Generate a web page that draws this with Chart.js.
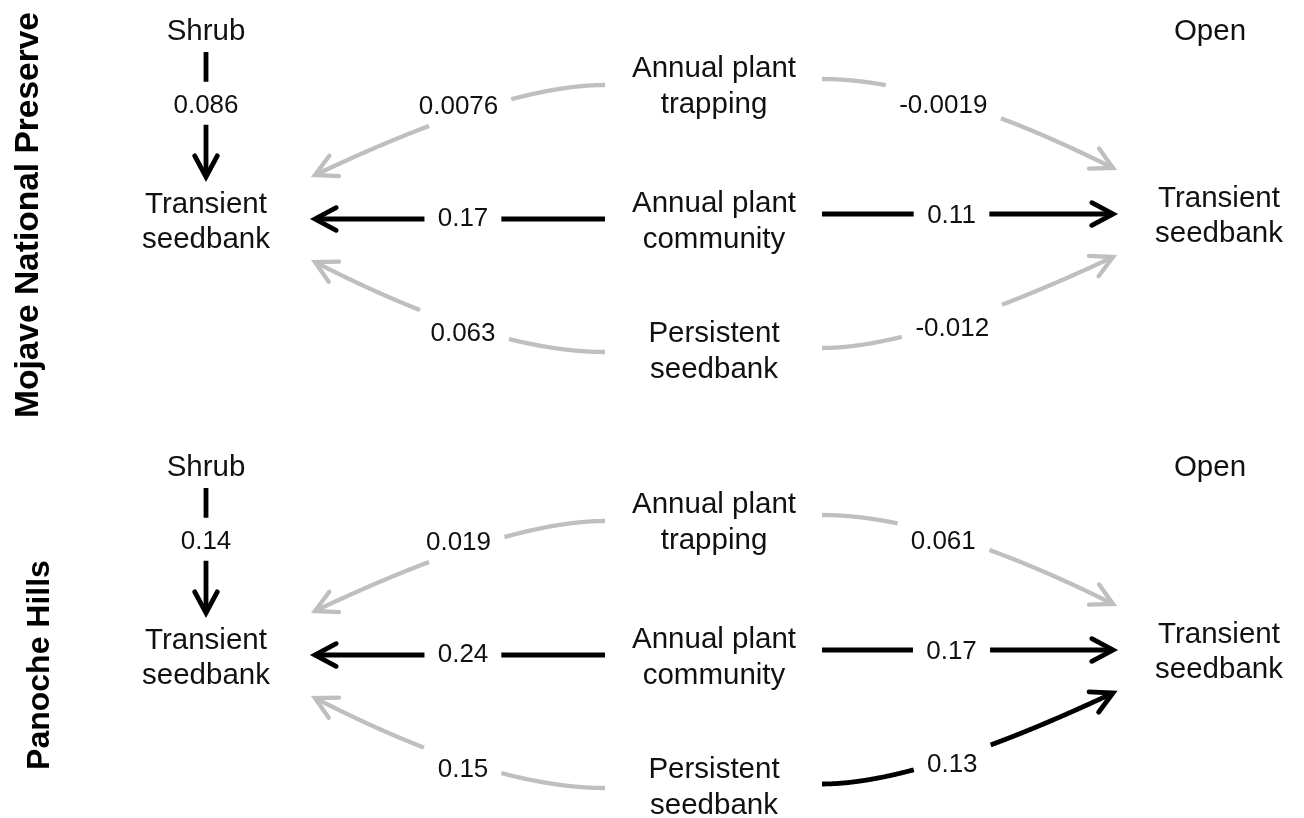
<!DOCTYPE html>
<html>
<head>
<meta charset="utf-8">
<script src="https://cdn.jsdelivr.net/npm/chart.js@4.4.1/dist/chart.umd.min.js"></script>
<style>
html,body{margin:0;padding:0;background:#fff;}
#wrap{width:1304px;height:818px;position:relative;}
</style>
</head>
<body>
<div id="wrap"><canvas id="c" width="1304" height="818"></canvas></div>
<script>
// ---------------- DATA ----------------
const panelTitles = ['Mojave National Preserve', 'Panoche Hills'];
const columnHeads = ['Shrub', 'Open'];
const responseLabel = ['Transient', 'seedbank'];
const predictorLabels = [['Annual plant', 'trapping'], ['Annual plant', 'community'], ['Persistent', 'seedbank']];
const pathNames = [
  'Shrub -> Transient seedbank (shrub)',
  'Annual plant trapping -> Transient seedbank (shrub)',
  'Annual plant community -> Transient seedbank (shrub)',
  'Persistent seedbank -> Transient seedbank (shrub)',
  'Annual plant trapping -> Transient seedbank (open)',
  'Annual plant community -> Transient seedbank (open)',
  'Persistent seedbank -> Transient seedbank (open)'
];
const mojaveCoef  = [0.086, 0.0076, 0.17, 0.063, -0.0019, 0.11, -0.012];
const panocheCoef = [0.14, 0.019, 0.24, 0.15, 0.061, 0.17, 0.13];
const mojaveSig   = [true, false, true, false, false, true, false];
const panocheSig  = [true, false, true, false, false, true, true];

// ---------------- LAYOUT (diagram units) ----------------
const FRAME = {w: 1304, h: 818};
const PANEL_DY = [0, 436];
const TITLE_POS = [{x: 38, y: 215}, {x: 49, y: 665}];
const TITLE_SIZE = [33.5, 32];
const NODE_POS = {
  shrub:  {x: 206,  base: [40]},
  transL: {x: 206,  base: [213, 248]},
  pred0:  {x: 714,  base: [77, 113]},
  pred1:  {x: 714,  base: [212, 248]},
  pred2:  {x: 714,  base: [342, 378]},
  open:   {x: 1210, base: [40]},
  transR: {x: 1219, base: [207, 242]}
};
const EDGE_GEOM = [
  {s: [206, 52],  t: [206, 177], lt: 0.41, off: [0, 0]},
  {s: [605, 85],  c: [505, 85],  t: [315, 175], lt: 0.5, off: [-24, -3]},
  {s: [605, 219], t: [315, 219], lt: 0.5, off: [3, -2]},
  {s: [605, 352], c: [490, 352], t: [315, 262], lt: 0.5, off: [-12, 2]},
  {s: [822, 79],  c: [935, 79],  t: [1113, 168], lt: 0.5, off: [-8, 2]},
  {s: [822, 214], t: [1113, 214], lt: 0.5, off: [-16, 0]},
  {s: [822, 348], c: [919, 348], t: [1113, 257], lt: 0.5, off: [9, 1]}
];
const STYLE = {
  sigColor: '#000000', nsColor: '#bfbfbf', sigWidth: 4.8, nsWidth: 4.3,
  nodeFont: '29.5px "Liberation Sans", Arial, sans-serif',
  coefFont: '26px "Liberation Sans", Arial, sans-serif',
  titleFamily: '"Liberation Sans", Arial, sans-serif',
  headLen: 24, headAngle: 28 * Math.PI / 180, padX: 13, padY: 12
};

const panelCoefs = [mojaveCoef, panocheCoef];
const panelSigs = [mojaveSig, panocheSig];

// node anchor points as a (hidden) scatter dataset
const anchorPoints = [];
PANEL_DY.forEach(dy => Object.values(NODE_POS).forEach(n => anchorPoints.push({x: n.x, y: n.base[0] + dy})));

const diagramPlugin = {
  id: 'diagram',
  afterDatasetsDraw(chart) {
    const ctx = chart.ctx;
    const X = v => chart.scales.x.getPixelForValue(v);
    const Y = v => chart.scales.y.getPixelForValue(v);
    ctx.save();

    // panel titles
    panelTitles.forEach((title, i) => {
      ctx.save();
      ctx.translate(X(TITLE_POS[i].x), Y(TITLE_POS[i].y));
      ctx.rotate(-Math.PI / 2);
      ctx.font = 'bold ' + TITLE_SIZE[i] + 'px ' + STYLE.titleFamily;
      ctx.fillStyle = '#000';
      ctx.textAlign = 'center';
      ctx.textBaseline = 'alphabetic';
      ctx.fillText(title, 0, 0);
      ctx.restore();
    });

    const nodeText = {
      shrub: [columnHeads[0]], open: [columnHeads[1]],
      transL: responseLabel, transR: responseLabel,
      pred0: predictorLabels[0], pred1: predictorLabels[1], pred2: predictorLabels[2]
    };

    PANEL_DY.forEach((dy, p) => {
      // nodes
      ctx.font = STYLE.nodeFont;
      ctx.fillStyle = '#111';
      ctx.textAlign = 'center';
      ctx.textBaseline = 'alphabetic';
      Object.keys(NODE_POS).forEach(k => {
        const n = NODE_POS[k];
        nodeText[k].forEach((line, j) => ctx.fillText(line, X(n.x), Y(n.base[j] + dy)));
      });

      // edges
      EDGE_GEOM.forEach((g, e) => {
        const value = panelCoefs[p][e];
        const sig = panelSigs[p][e];
        const color = sig ? STYLE.sigColor : STYLE.nsColor;
        const lw = sig ? STYLE.sigWidth : STYLE.nsWidth;
        const S = {x: X(g.s[0]), y: Y(g.s[1] + dy)};
        const T = {x: X(g.t[0]), y: Y(g.t[1] + dy)};
        const C = g.c ? {x: X(g.c[0]), y: Y(g.c[1] + dy)} : null;
        const P = t => C ? {
          x: (1 - t) * (1 - t) * S.x + 2 * (1 - t) * t * C.x + t * t * T.x,
          y: (1 - t) * (1 - t) * S.y + 2 * (1 - t) * t * C.y + t * t * T.y
        } : {x: S.x + (T.x - S.x) * t, y: S.y + (T.y - S.y) * t};

        const label = String(value);
        ctx.font = STYLE.coefFont;
        const w = ctx.measureText(label).width;
        const Lp = P(g.lt);
        const L = {x: Lp.x + g.off[0], y: Lp.y + g.off[1]};
        const hh = 26 * 0.36;
        const box = {x0: L.x - w / 2 - STYLE.padX, x1: L.x + w / 2 + STYLE.padX, y0: L.y - hh - STYLE.padY, y1: L.y + hh + STYLE.padY};
        const inside = q => q.x > box.x0 && q.x < box.x1 && q.y > box.y0 && q.y < box.y1;

        ctx.strokeStyle = color;
        ctx.lineWidth = lw;
        ctx.lineCap = 'butt';
        ctx.lineJoin = 'round';
        ctx.beginPath();
        const N = 400;
        let drawing = false;
        for (let i = 0; i <= N; i++) {
          const q = P(i / N);
          if (inside(q)) { drawing = false; continue; }
          if (!drawing) { ctx.moveTo(q.x, q.y); drawing = true; } else ctx.lineTo(q.x, q.y);
        }
        ctx.stroke();

        // arrowhead (open chevron)
        const from = C || S;
        let dx = T.x - from.x, dyv = T.y - from.y;
        const len = Math.hypot(dx, dyv); dx /= len; dyv /= len;
        const ang = Math.atan2(dyv, dx);
        const a1 = ang + Math.PI - STYLE.headAngle, a2 = ang + Math.PI + STYLE.headAngle;
        ctx.beginPath();
        ctx.moveTo(T.x + STYLE.headLen * Math.cos(a1), T.y + STYLE.headLen * Math.sin(a1));
        ctx.lineTo(T.x, T.y);
        ctx.lineTo(T.x + STYLE.headLen * Math.cos(a2), T.y + STYLE.headLen * Math.sin(a2));
        ctx.lineCap = 'round';
        ctx.lineJoin = 'miter';
        ctx.stroke();

        // coefficient label
        ctx.fillStyle = '#111';
        ctx.textAlign = 'center';
        ctx.textBaseline = 'alphabetic';
        ctx.fillText(label, L.x, L.y + hh);
      });
    });
    ctx.restore();
  }
};

new Chart(document.getElementById('c'), {
  type: 'scatter',
  data: {datasets: [{label: 'nodes', data: anchorPoints, pointRadius: 0, pointHoverRadius: 0}]},
  options: {
    responsive: false,
    devicePixelRatio: 1,
    animation: false,
    events: [],
    layout: {padding: 0},
    plugins: {legend: {display: false}, tooltip: {enabled: false}, title: {display: false}},
    scales: {
      x: {type: 'linear', min: 0, max: FRAME.w, display: false},
      y: {type: 'linear', min: 0, max: FRAME.h, reverse: true, display: false}
    }
  },
  plugins: [diagramPlugin]
});
</script>
</body>
</html>
